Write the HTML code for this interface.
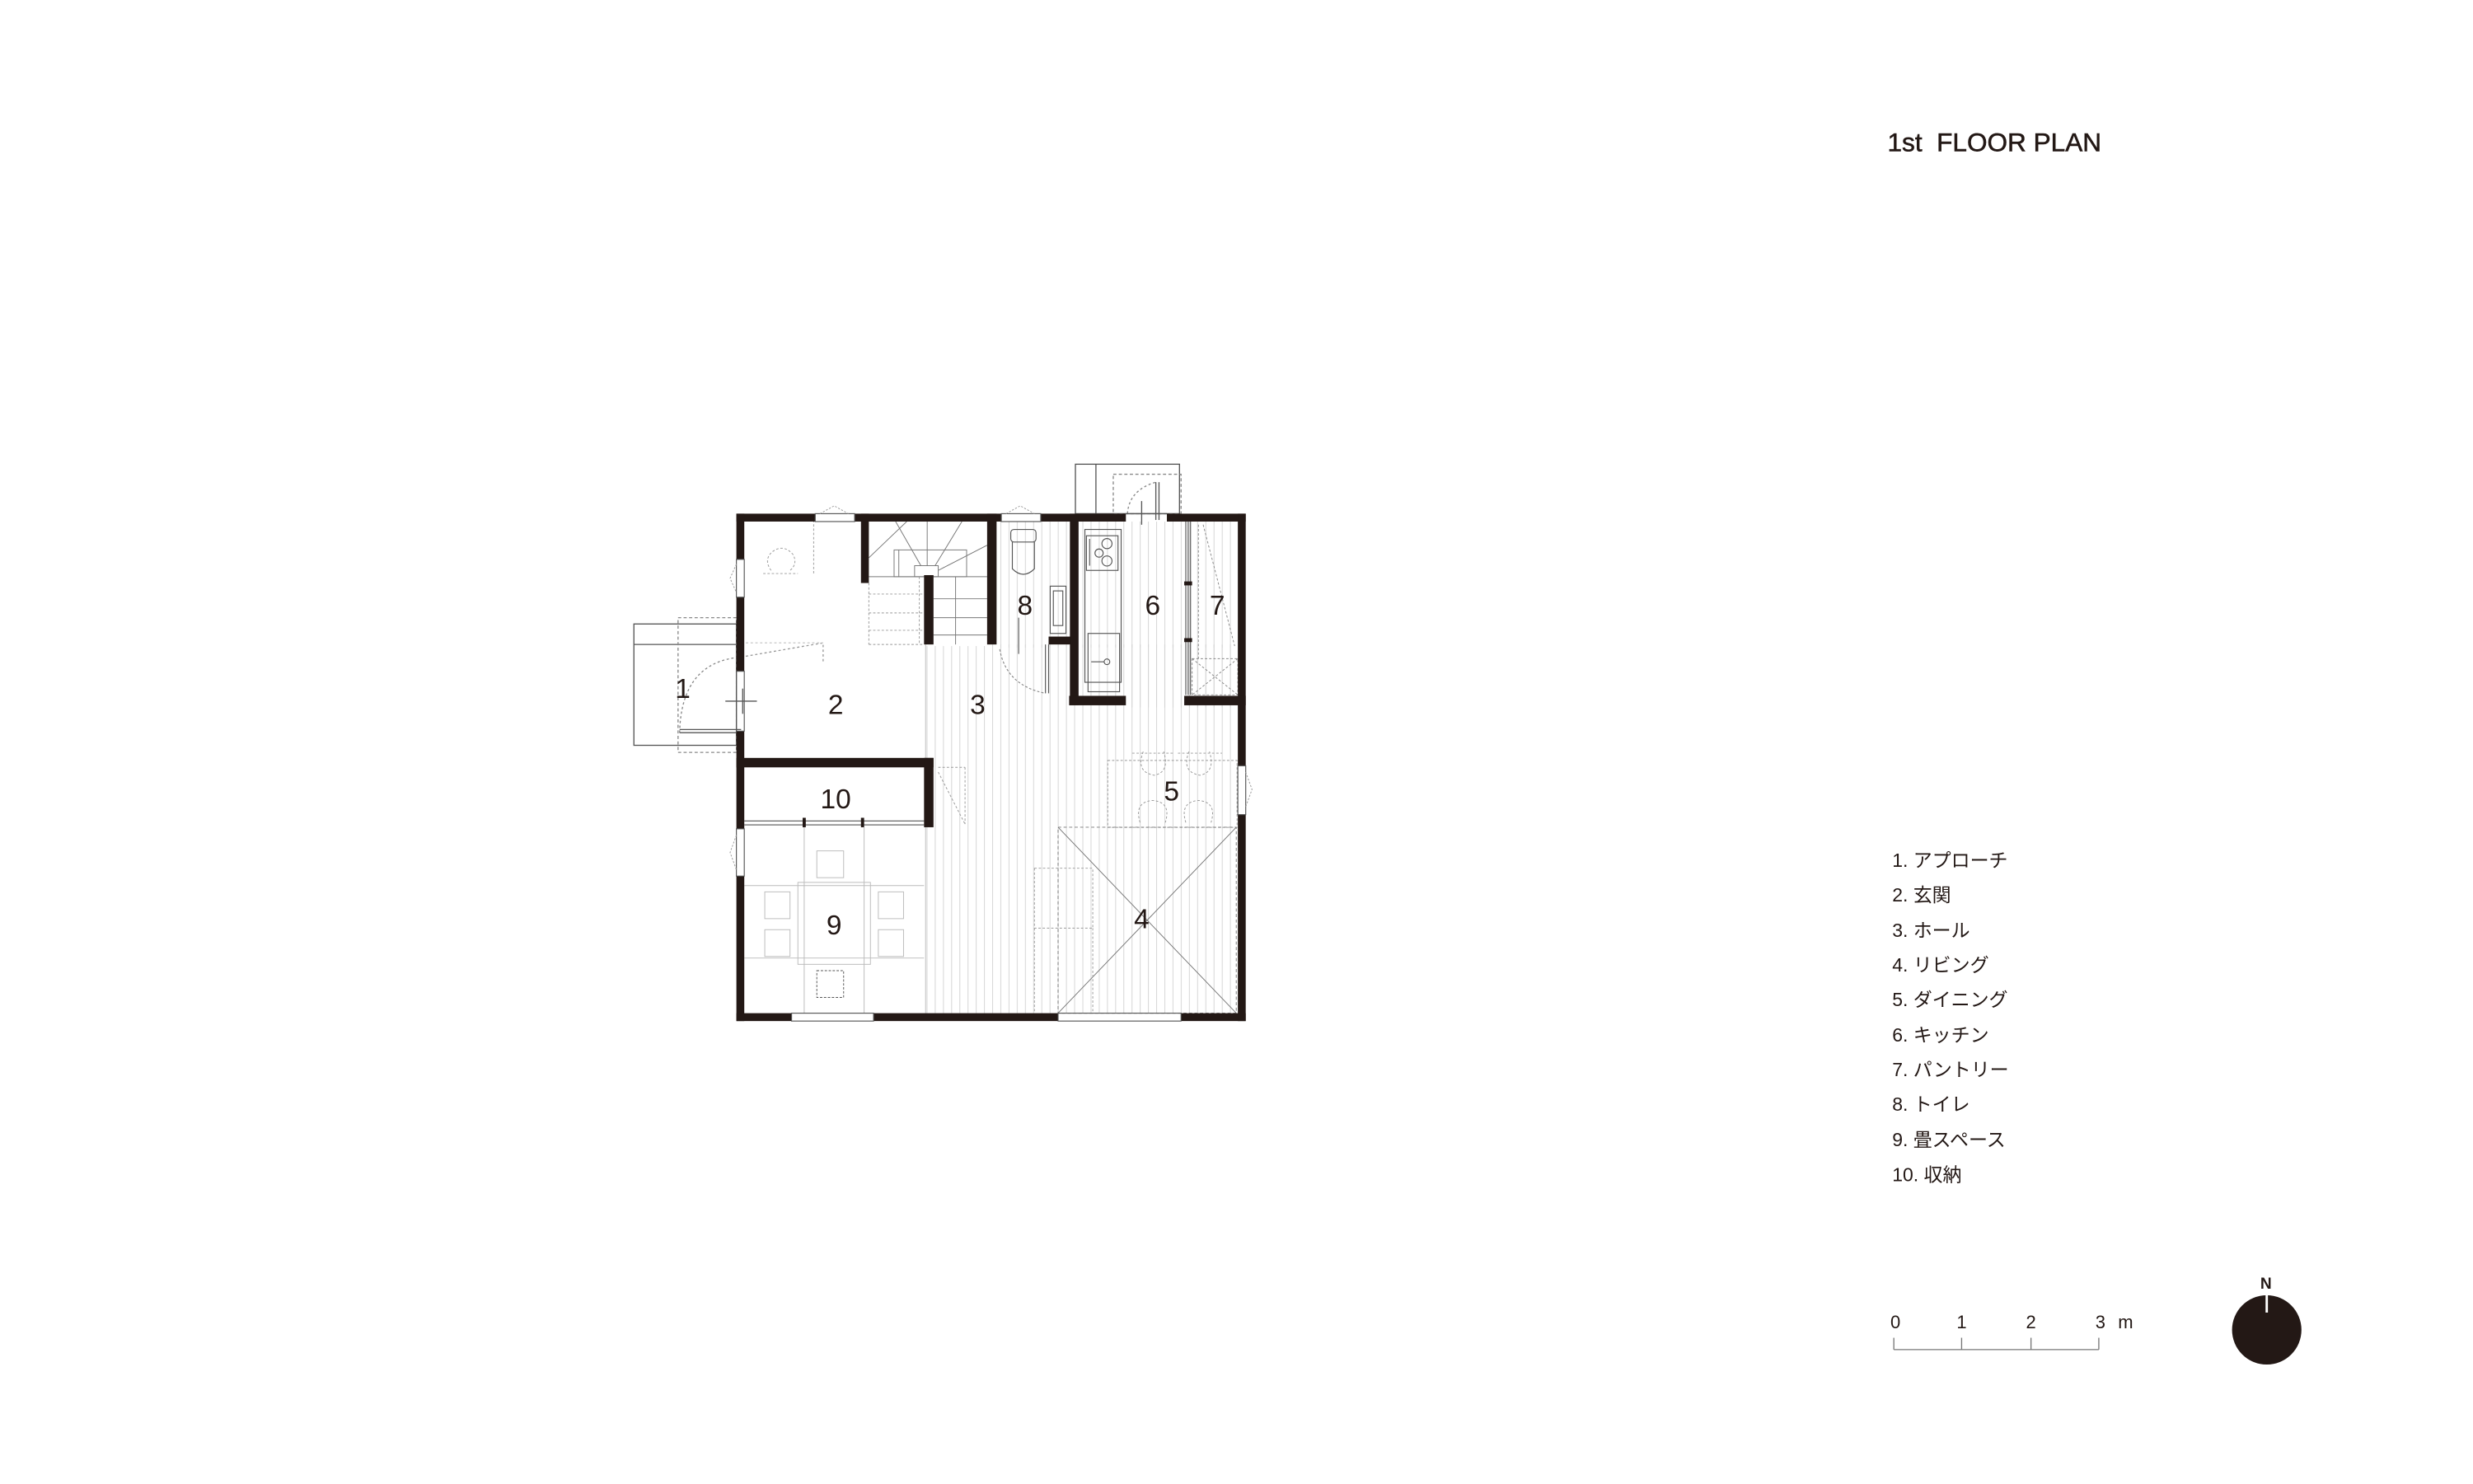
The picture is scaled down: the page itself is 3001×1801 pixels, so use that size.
<!DOCTYPE html>
<html><head><meta charset="utf-8"><style>
html,body{margin:0;padding:0;background:#fff;}
svg{display:block;}
text{font-family:"Liberation Sans","Noto Sans CJK JP",sans-serif;fill:#231815;}
</style></head><body>
<svg width="3001" height="1801" viewBox="0 0 1568.3 941.8" preserveAspectRatio="none" xmlns="http://www.w3.org/2000/svg">
<defs>
<pattern id="fl" x="0" y="0" width="5.2" height="10" patternUnits="userSpaceOnUse">
<line x1="0.3" y1="0" x2="0.3" y2="10" stroke="#d4d4d4" stroke-width="0.5"/>
</pattern>
</defs>
<rect width="1570" height="945" fill="#fff"/>

<rect x="587" y="409" width="198" height="234" fill="url(#fl)"/>
<rect x="632" y="331" width="47" height="80" fill="url(#fl)"/>
<rect x="684" y="331" width="101" height="80" fill="url(#fl)"/>
<rect x="714" y="409" width="71" height="40" fill="url(#fl)"/>
<rect x="587" y="370" width="40" height="40" fill="#fff"/>

<g fill="none" stroke="#555" stroke-width="0.7">
<rect x="402" y="396" width="65" height="77"/>
<line x1="402" y1="409" x2="467" y2="409"/>
<rect x="430" y="392" width="37" height="85.5" stroke-dasharray="2 1.5" stroke="#888"/>
<path d="M431 465 Q432 420 470 417" stroke-dasharray="1.5 1.5" stroke="#888"/>
<line x1="431" y1="463" x2="470" y2="463"/>
<line x1="431" y1="465" x2="470" y2="465"/>
<line x1="460" y1="445" x2="480" y2="445"/>
<line x1="471" y1="437" x2="471" y2="453"/>
<path d="M470 417 L522 408 L522 420" stroke-dasharray="1.5 1.5" stroke="#999"/>
<path d="M473 408 L522 408" stroke="#ccc" stroke-dasharray="1.5 1.5"/>
</g>

<g fill="none" stroke="#555" stroke-width="0.7">
<rect x="682" y="294.6" width="66" height="31.4"/>
<line x1="695" y1="294.6" x2="695" y2="326"/>
<rect x="706" y="301" width="43" height="25" stroke-dasharray="2 1.5" stroke="#888"/>
<path d="M715 326 Q716 311 733 306" stroke-dasharray="1.5 1.5" stroke="#888"/>
<line x1="733" y1="306" x2="733" y2="330"/>
<line x1="735" y1="306" x2="735" y2="330"/>
<line x1="724" y1="318" x2="724" y2="333"/>
<line x1="714" y1="326" x2="740" y2="326"/>
</g>

<g fill="none" stroke="#777" stroke-width="0.5">
<line x1="551" y1="366" x2="626" y2="366"/>
<line x1="551" y1="354" x2="575" y2="331"/>
<line x1="568" y1="331" x2="584" y2="359"/>
<line x1="588" y1="331" x2="588" y2="359"/>
<line x1="610" y1="331" x2="593" y2="359"/>
<line x1="626" y1="346" x2="595" y2="362"/>
<rect x="567" y="349" width="46" height="17"/>
<rect x="580" y="359" width="15" height="7"/>
<line x1="570" y1="349" x2="570" y2="366"/>
<line x1="592" y1="380" x2="626" y2="380"/>
<line x1="592" y1="392" x2="626" y2="392"/>
<line x1="592" y1="403" x2="626" y2="403"/>
<line x1="606" y1="366" x2="606" y2="409"/>
</g>
<g fill="none" stroke="#999" stroke-width="0.5" stroke-dasharray="1.5 1.2">
<line x1="551" y1="377" x2="586" y2="377"/>
<line x1="551" y1="389" x2="586" y2="389"/>
<line x1="551" y1="400" x2="586" y2="400"/>
<line x1="551" y1="409" x2="586" y2="409"/>
<line x1="551" y1="370" x2="551" y2="409"/>
<line x1="583" y1="366" x2="583" y2="409"/>
</g>

<g fill="none" stroke="#999" stroke-width="0.5" stroke-dasharray="1.5 1.2">
<line x1="516" y1="330" x2="516" y2="364"/>
<path d="M489 362 Q484 355 490 350 Q497 345 503 352 Q506 358 501 362"/>
<line x1="484" y1="364" x2="506" y2="364"/>
<line x1="587" y1="409" x2="587" y2="643" stroke-dasharray="none" stroke="#bbb"/>
</g>

<g fill="none" stroke="#555" stroke-width="0.6">
<rect x="641" y="336" width="16" height="8" rx="2"/>
<path d="M642 344 L642 361 Q649 368 656 361 L656 344"/>
<rect x="666" y="372" width="10" height="30"/>
<rect x="668" y="375" width="6" height="22"/>
<line x1="646" y1="392" x2="646" y2="415"/>
<line x1="663" y1="409" x2="663" y2="440"/>
<line x1="665" y1="409" x2="665" y2="440"/>
<path d="M634 412 Q638 435 663 440" stroke-dasharray="1.5 1.2" stroke="#888"/>
</g>

<g fill="none" stroke="#555" stroke-width="0.6">
<rect x="688" y="336" width="23" height="97"/>
<rect x="689" y="340" width="20" height="22"/>
<circle cx="702" cy="345" r="3.2"/>
<circle cx="697" cy="351" r="2.6"/>
<circle cx="702" cy="356" r="3.2"/>
<line x1="691" y1="342" x2="691" y2="359"/>
<rect x="690" y="402" width="20" height="37"/>
<circle cx="702" cy="420" r="1.8"/>
<line x1="692" y1="420" x2="700" y2="420"/>
<line x1="752" y1="331" x2="752" y2="441"/>
<line x1="755" y1="331" x2="755" y2="441"/>
<line x1="753.5" y1="331" x2="753.5" y2="441"/>
</g>
<rect x="751" y="369" width="5" height="2.5" fill="#231815"/>
<rect x="751" y="405" width="5" height="2.5" fill="#231815"/>
<g fill="none" stroke="#888" stroke-width="0.5" stroke-dasharray="1.5 1.2">
<rect x="756" y="418" width="29" height="23"/>
<line x1="756" y1="418" x2="785" y2="441"/>
<line x1="785" y1="418" x2="756" y2="441"/>
<path d="M763 333 L783 410"/>
<line x1="760" y1="333" x2="760" y2="418"/>
</g>

<g fill="none" stroke="#999" stroke-width="0.5" stroke-dasharray="1.5 1.2">
<rect x="702.5" y="482.6" width="82" height="42.5"/>
<path d="M725 477 Q720 490 732 492 Q742 490 738 477"/>
<path d="M754 477 Q749 490 761 492 Q771 490 767 477"/>
<path d="M723 522 Q719 509 731 508 Q743 509 739 522"/>
<path d="M752 522 Q748 509 760 508 Q772 509 768 522"/>
<line x1="718" y1="478" x2="745" y2="478"/>
<line x1="747" y1="478" x2="775" y2="478"/>
</g>

<g fill="none" stroke="#777" stroke-width="0.5">
<rect x="671" y="525" width="113" height="118" stroke-dasharray="2 1.5"/>
<line x1="671" y1="525" x2="784" y2="643"/>
<line x1="784" y1="525" x2="671" y2="643"/>
</g>
<g fill="none" stroke="#999" stroke-width="0.5" stroke-dasharray="1.5 1.2">
<rect x="656" y="551" width="37" height="38"/>
<line x1="656" y1="589" x2="656" y2="643"/>
<line x1="693" y1="589" x2="693" y2="643"/>
<line x1="595" y1="487" x2="612" y2="487"/>
<line x1="612" y1="487" x2="612" y2="523"/>
<line x1="595" y1="490" x2="612" y2="523"/>
</g>

<g fill="none" stroke="#bbb" stroke-width="0.5">
<line x1="472" y1="562" x2="586" y2="562"/>
<line x1="472" y1="608" x2="586" y2="608"/>
<line x1="510" y1="525" x2="510" y2="643"/>
<line x1="548" y1="525" x2="548" y2="643"/>
<rect x="506" y="560" width="46" height="52"/>
<rect x="518" y="540" width="17" height="17"/>
<rect x="485" y="566" width="16" height="17"/>
<rect x="485" y="590" width="16" height="17"/>
<rect x="557" y="566" width="16" height="17"/>
<rect x="557" y="590" width="16" height="17"/>
</g>
<rect x="518" y="616" width="17" height="17" fill="none" stroke="#555" stroke-width="0.5" stroke-dasharray="1.5 1"/>
<g fill="none" stroke="#555" stroke-width="0.6">
<line x1="472" y1="521" x2="586" y2="521"/>
<line x1="472" y1="523.5" x2="586" y2="523.5"/>
</g>
<rect x="509" y="519" width="2" height="6" fill="#231815"/>
<rect x="546" y="519" width="2" height="6" fill="#231815"/>

<g fill="#231815">
<rect x="467" y="326" width="50" height="5"/>
<rect x="542" y="326" width="93" height="5"/>
<rect x="660" y="326" width="54" height="5"/>
<rect x="740" y="326" width="50" height="5"/>
<rect x="467" y="643" width="35" height="5"/>
<rect x="554" y="643" width="117" height="5"/>
<rect x="749" y="643" width="41" height="5"/>
<rect x="467" y="326" width="5" height="29"/>
<rect x="467" y="379" width="5" height="47"/>
<rect x="467" y="464" width="5" height="62"/>
<rect x="467" y="556" width="5" height="92"/>
<rect x="785" y="326" width="5" height="160"/>
<rect x="785" y="517" width="5" height="131"/>
<rect x="546" y="326" width="5" height="44"/>
<rect x="626" y="326" width="6" height="83"/>
<rect x="586" y="365" width="6" height="44"/>
<rect x="678.5" y="326" width="5.5" height="121.5"/>
<rect x="665" y="404" width="14" height="5"/>
<rect x="678" y="441.6" width="36" height="6"/>
<rect x="751" y="441.6" width="39" height="6"/>
<rect x="467" y="481" width="125" height="6"/>
<rect x="586" y="481" width="6" height="44"/>
</g>
<g fill="none" stroke="#555" stroke-width="0.6">
<rect x="517" y="326" width="25" height="5"/>
<rect x="635" y="326" width="25" height="5"/>
<rect x="502" y="643" width="52" height="5"/>
<rect x="671" y="643" width="78" height="5"/>
<rect x="467" y="355" width="5" height="24"/>
<rect x="467" y="526" width="5" height="30"/>
<rect x="785" y="486" width="5" height="31"/>
<rect x="467" y="426" width="5" height="38"/>
</g>
<g fill="none" stroke="#999" stroke-width="0.5" stroke-dasharray="1.2 1">
<path d="M520 326 L529 321 L538 326"/>
<path d="M638 326 L647 321 L656 326"/>
<path d="M467 358 L463 367 L467 376"/>
<path d="M467 530 L463 541 L467 552"/>
<path d="M790 490 L794 501 L790 512"/>
</g>

<g font-size="17.5" text-anchor="middle">
<text x="433" y="443">1</text>
<text x="530" y="453">2</text>
<text x="620" y="453">3</text>
<text x="724" y="589">4</text>
<text x="743" y="508">5</text>
<text x="731" y="390">6</text>
<text x="772" y="390">7</text>
<text x="650" y="390">8</text>
<text x="529" y="593">9</text>
<text x="530" y="513">10</text>
</g>

<text x="1197" y="96" font-size="16.5" stroke="#231815" stroke-width="0.3">1st&#160; FLOOR PLAN</text>

<g font-size="12">
<text x="1200" y="550">1. アプローチ</text>
<text x="1200" y="572">2. 玄関</text>
<text x="1200" y="594.5">3. ホール</text>
<text x="1200" y="616.5">4. リビング</text>
<text x="1200" y="638.5">5. ダイニング</text>
<text x="1200" y="661">6. キッチン</text>
<text x="1200" y="683">7. パントリー</text>
<text x="1200" y="705">8. トイレ</text>
<text x="1200" y="727.5">9. 畳スペース</text>
<text x="1200" y="749.5">10. 収納</text>
</g>

<g font-size="11.5" text-anchor="middle">
<text x="1202" y="843">0</text>
<text x="1244" y="843">1</text>
<text x="1288" y="843">2</text>
<text x="1332" y="843">3</text>
<text x="1348" y="843">m</text>
</g>
<g stroke="#777" stroke-width="0.7" fill="none">
<line x1="1201" y1="856.5" x2="1331" y2="856.5"/>
<line x1="1201" y1="849" x2="1201" y2="856.5"/>
<line x1="1244" y1="849" x2="1244" y2="856.5"/>
<line x1="1288" y1="849" x2="1288" y2="856.5"/>
<line x1="1331" y1="849" x2="1331" y2="856.5"/>
</g>
<text x="1437" y="818" font-size="10" text-anchor="middle" font-weight="bold">N</text>
<ellipse cx="1437.5" cy="844" rx="22" ry="22" fill="#231815"/>
<line x1="1437.5" y1="821" x2="1437.5" y2="833" stroke="#fff" stroke-width="1.5"/>
</svg>
</body></html>
